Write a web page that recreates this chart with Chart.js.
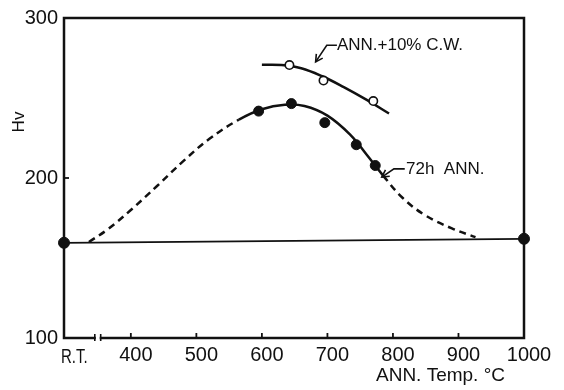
<!DOCTYPE html>
<html>
<head>
<meta charset="utf-8">
<script src="https://cdn.jsdelivr.net/npm/chart.js@4/dist/chart.umd.min.js"></script>
<style>
html,body{margin:0;padding:0;background:#fff;}
canvas{display:block;}
</style>
</head>
<body>
<canvas id="c" width="564" height="390"></canvas>
<script>
// ---- data ----
const xTicks = [298, 400, 500, 600, 700, 800, 900, 1000];
const xTickLabels = ['R.T.', '400', '500', '600', '700', '800', '900', '1000'];
const yTicks = [100, 200, 300];

// room-temperature and 1000 °C reference line
const baseT  = [298, 1000];
const baseHv = [159.5, 162];

// 72h ANN measured points
const annT  = [595, 645, 696, 744, 773];
const annHv = [241.8, 246.5, 234.6, 220.8, 207.8];

// ANN. + 10% C.W. measured points
const cwT  = [642, 694, 770];
const cwHv = [270.6, 260.9, 248.1];

// 72h ANN fitted curve (dashed where extrapolated)
const annCurveT  = [336, 365, 400, 440, 480, 520, 565, 600, 635, 665, 700, 735, 760, 785, 815, 850, 890, 926];
const annCurveHv = [160, 168, 180, 195, 210.5, 224.5, 236.5, 243, 245.8, 245, 239, 227, 214.5, 201.5, 187.5, 176.5, 168.5, 163];
const annSolidFrom = 565, annSolidTo = 785;

// ANN. + 10% C.W. fitted curve
const cwCurveT  = [600, 630, 660, 692, 725, 760, 794];
const cwCurveHv = [270.8, 270.6, 268.6, 263.6, 256.8, 248.8, 240.3];

const toXY = (xs, ys) => xs.map((x, i) => ({x: x, y: ys[i]}));
const INK = '#111';
const FONT = '"Liberation Sans", Arial, sans-serif';

const decor = {
  id: 'decor',
  beforeDatasetsDraw(chart) {
    const {ctx, chartArea: a, scales: {x, y}} = chart;
    ctx.save();
    ctx.strokeStyle = INK;
    ctx.lineWidth = 2.5;
    ctx.strokeRect(a.left, a.top, a.right - a.left, a.bottom - a.top);
    // inward tick marks
    ctx.lineWidth = 1.8;
    xTicks.slice(1, -1).forEach(v => {
      const px = x.getPixelForValue(v);
      ctx.beginPath(); ctx.moveTo(px, a.bottom); ctx.lineTo(px, a.bottom - 5); ctx.stroke();
    });
    yTicks.slice(1, -1).forEach(v => {
      const py = y.getPixelForValue(v);
      ctx.beginPath(); ctx.moveTo(a.left, py); ctx.lineTo(a.left + 5, py); ctx.stroke();
    });
    // axis break
    const b1 = x.getPixelForValue(345), b2 = x.getPixelForValue(354);
    ctx.fillStyle = '#fff';
    ctx.fillRect(b1 + 1, a.bottom - 2, b2 - b1 - 2, 4);
    ctx.lineWidth = 1.6;
    [b1, b2].forEach(px => {
      ctx.beginPath(); ctx.moveTo(px, a.bottom - 4); ctx.lineTo(px, a.bottom + 3); ctx.stroke();
    });
    ctx.restore();
  },
  afterDatasetsDraw(chart) {
    const {ctx, chartArea: a, scales: {x, y}} = chart;
    const P = (t, h) => [x.getPixelForValue(t), y.getPixelForValue(h)];
    ctx.save();
    ctx.fillStyle = INK;
    ctx.strokeStyle = INK;
    // R.T. label
    ctx.font = '20px ' + FONT;
    ctx.textBaseline = 'top';
    ctx.textAlign = 'left';
    ctx.save();
    ctx.translate(a.left - 3, a.bottom + 9);
    ctx.scale(0.75, 1);
    ctx.fillText('R.T.', 0, 0);
    ctx.restore();
    // axis titles
    ctx.font = '19px ' + FONT;
    ctx.textAlign = 'right';
    ctx.textBaseline = 'middle';
    ctx.fillText('ANN. Temp. °C', 505, 376);
    ctx.save();
    ctx.translate(19, 122);
    ctx.rotate(-Math.PI / 2);
    ctx.textAlign = 'center';
    ctx.font = '17px ' + FONT;
    ctx.fillText('Hv', 0, 0);
    ctx.restore();
    // annotations with arrows
    const arrow = (pts) => {
      ctx.lineWidth = 1.6;
      ctx.beginPath();
      ctx.moveTo(pts[0][0], pts[0][1]);
      for (let i = 1; i < pts.length; i++) ctx.lineTo(pts[i][0], pts[i][1]);
      ctx.stroke();
      const tip = pts[pts.length - 1], prev = pts[pts.length - 2];
      const ang = Math.atan2(tip[1] - prev[1], tip[0] - prev[0]);
      const L = 8;
      ctx.beginPath();
      ctx.moveTo(tip[0] - L * Math.cos(ang - 0.5), tip[1] - L * Math.sin(ang - 0.5));
      ctx.lineTo(tip[0], tip[1]);
      ctx.lineTo(tip[0] - L * Math.cos(ang + 0.5), tip[1] - L * Math.sin(ang + 0.5));
      ctx.stroke();
    };
    ctx.font = '17px ' + FONT;
    ctx.textAlign = 'left';
    ctx.textBaseline = 'middle';
    let t = P(714.5, 283);
    ctx.fillText('ANN.+10% C.W.', t[0], t[1]);
    arrow([P(714.5, 283), P(699, 283), P(682, 272.6)]);
    t = P(820, 205.6);
    ctx.fillText('72h  ANN.', t[0], t[1]);
    arrow([P(818, 205.7), P(801.5, 205.7), P(783, 200.6)]);
    ctx.restore();
  }
};

new Chart(document.getElementById('c'), {
  type: 'line',
  data: {
    datasets: [
      {
        label: 'ends',
        data: toXY(baseT, baseHv),
        showLine: false,
        pointRadius: 5.5,
        pointBackgroundColor: INK,
        pointBorderColor: INK,
        clip: false
      },
      {
        label: '72h ANN.',
        data: toXY(annT, annHv),
        showLine: false,
        pointRadius: 5,
        pointBackgroundColor: INK,
        pointBorderColor: INK
      },
      {
        label: 'ANN.+10% C.W.',
        data: toXY(cwT, cwHv),
        showLine: false,
        pointRadius: 4.2,
        pointBorderWidth: 1.6,
        pointBackgroundColor: '#fff',
        pointBorderColor: INK
      },
      {
        label: 'base line',
        data: toXY(baseT, baseHv),
        borderColor: INK,
        borderWidth: 1.8,
        pointRadius: 0,
        tension: 0
      },
      {
        label: '72h curve',
        data: toXY(annCurveT, annCurveHv),
        borderColor: INK,
        borderWidth: 2.5,
        pointRadius: 0,
        tension: 0.4,
        segment: {
          borderDash: c => (c.p1.parsed.x <= annSolidFrom || c.p0.parsed.x >= annSolidTo) ? [7, 5] : undefined
        }
      },
      {
        label: 'C.W. curve',
        data: toXY(cwCurveT, cwCurveHv),
        borderColor: INK,
        borderWidth: 2.5,
        pointRadius: 0,
        tension: 0.4
      }
    ]
  },
  options: {
    responsive: false,
    devicePixelRatio: 1,
    animation: false,
    layout: {padding: {top: 14, right: 40, bottom: 0, left: 0}},
    plugins: {legend: {display: false}, tooltip: {enabled: false}},
    scales: {
      x: {
        type: 'linear',
        min: xTicks[0],
        max: xTicks[xTicks.length - 1],
        afterBuildTicks: s => { s.ticks = xTicks.map(v => ({value: v})); },
        afterFit: s => { s.height = 52; },
        grid: {display: false, drawTicks: false},
        border: {display: false},
        ticks: {
          callback: (v) => v === xTicks[0] ? '' : xTickLabels[xTicks.indexOf(v)],
          font: {size: 20, family: FONT},
          color: INK,
          padding: 5,
          labelOffset: 5,
          maxRotation: 0,
          autoSkip: false
        }
      },
      y: {
        min: yTicks[0],
        max: yTicks[yTicks.length - 1],
        afterBuildTicks: s => { s.ticks = yTicks.map(v => ({value: v})); },
        afterFit: s => { s.width = 64; },
        grid: {display: false, drawTicks: false},
        border: {display: false},
        ticks: {
          font: {size: 20, family: FONT},
          color: INK,
          padding: 6
        }
      }
    }
  },
  plugins: [decor]
});
</script>
</body>
</html>
